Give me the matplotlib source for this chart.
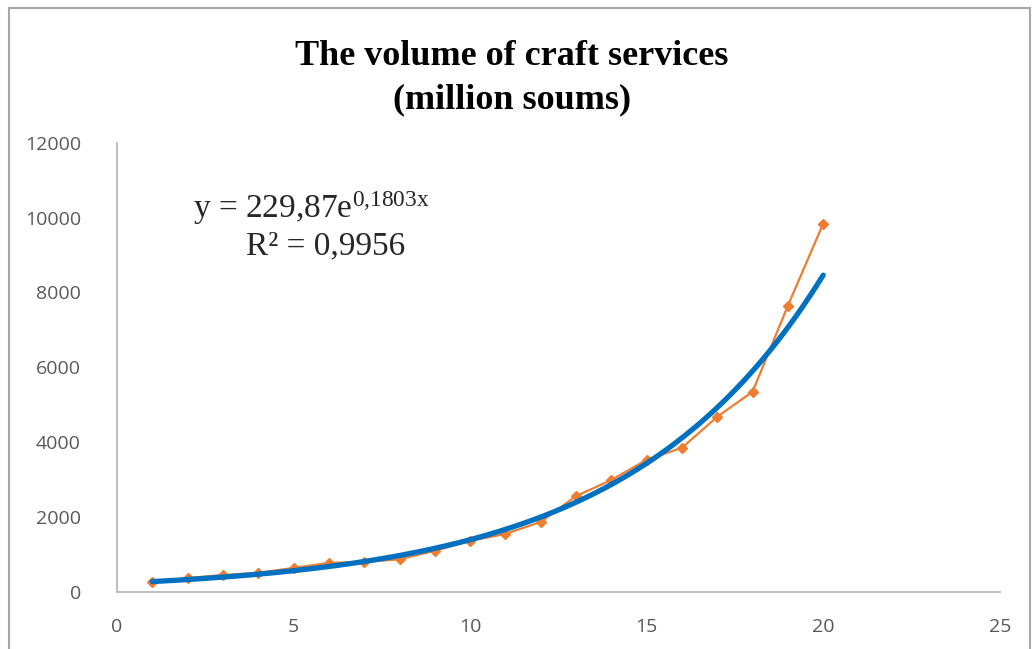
import numpy as np
import matplotlib.pyplot as plt
from matplotlib.patches import Rectangle

plt.rcParams['mathtext.fontset'] = 'custom'
plt.rcParams['mathtext.rm'] = 'Liberation Serif'
plt.rcParams['mathtext.it'] = 'Liberation Serif'

# values
years = list(range(1, 21))
volume = [260, 370, 450, 510, 640, 775, 800, 870, 1100, 1360,
          1550, 1870, 2560, 2990, 3530, 3850, 4680, 5350, 7650, 9840]

# exponential trend y = a*e^(b*x)
trend_a = 229.87
trend_b = 0.1803

x_ticks = [0, 5, 10, 15, 20, 25]
y_ticks = [0, 2000, 4000, 6000, 8000, 10000, 12000]

fig = plt.figure(figsize=(10.36, 6.49), dpi=100)
ax = fig.add_axes([0.113, 0.088, 0.852, 0.692])

# outer chart border
fig.patches.append(Rectangle((0.009, -0.01), 0.985, 0.998, transform=fig.transFigure,
                             fill=False, edgecolor='#a6a6a6', linewidth=1.5))

ax.plot(years, volume, color='#ED7D31', linewidth=1.6, marker='D', markersize=5,
        zorder=2)

xs = np.linspace(years[0], years[-1], 200)
ax.plot(xs, trend_a * np.exp(trend_b * xs), color='#0070C0', linewidth=3.8,
        solid_capstyle='round', zorder=3)

ax.set_xlim(0, 25)
ax.set_ylim(0, 12000)
ax.set_xticks(x_ticks)
ax.set_yticks(y_ticks)

for s in ['top', 'right']:
    ax.spines[s].set_visible(False)
for s in ['left', 'bottom']:
    ax.spines[s].set_color('#bfbfbf')
    ax.spines[s].set_linewidth(1.5)

ax.tick_params(length=0, labelsize=14, labelcolor='#595959')
ax.tick_params(axis='x', pad=19)
ax.tick_params(axis='y', pad=26)
for lab in ax.get_xticklabels() + ax.get_yticklabels():
    lab.set_fontfamily('Open Sans')

fig.text(0.494, 0.88, 'The volume of craft services\n(million soums)',
         ha='center', va='center', fontsize=26, fontweight='bold',
         family='Liberation Serif', linespacing=1.4)

ax.text(0.086, 0.855, 'y = 229,87e$^{0{,}1803x}$', transform=ax.transAxes,
        fontsize=24, family='Liberation Serif', color='#262626', ha='left', va='center')
ax.text(0.146, 0.77, 'R² = 0,9956', transform=ax.transAxes,
        fontsize=24, family='Liberation Serif', color='#262626', ha='left', va='center')

fig.savefig('out.png', dpi=100)
